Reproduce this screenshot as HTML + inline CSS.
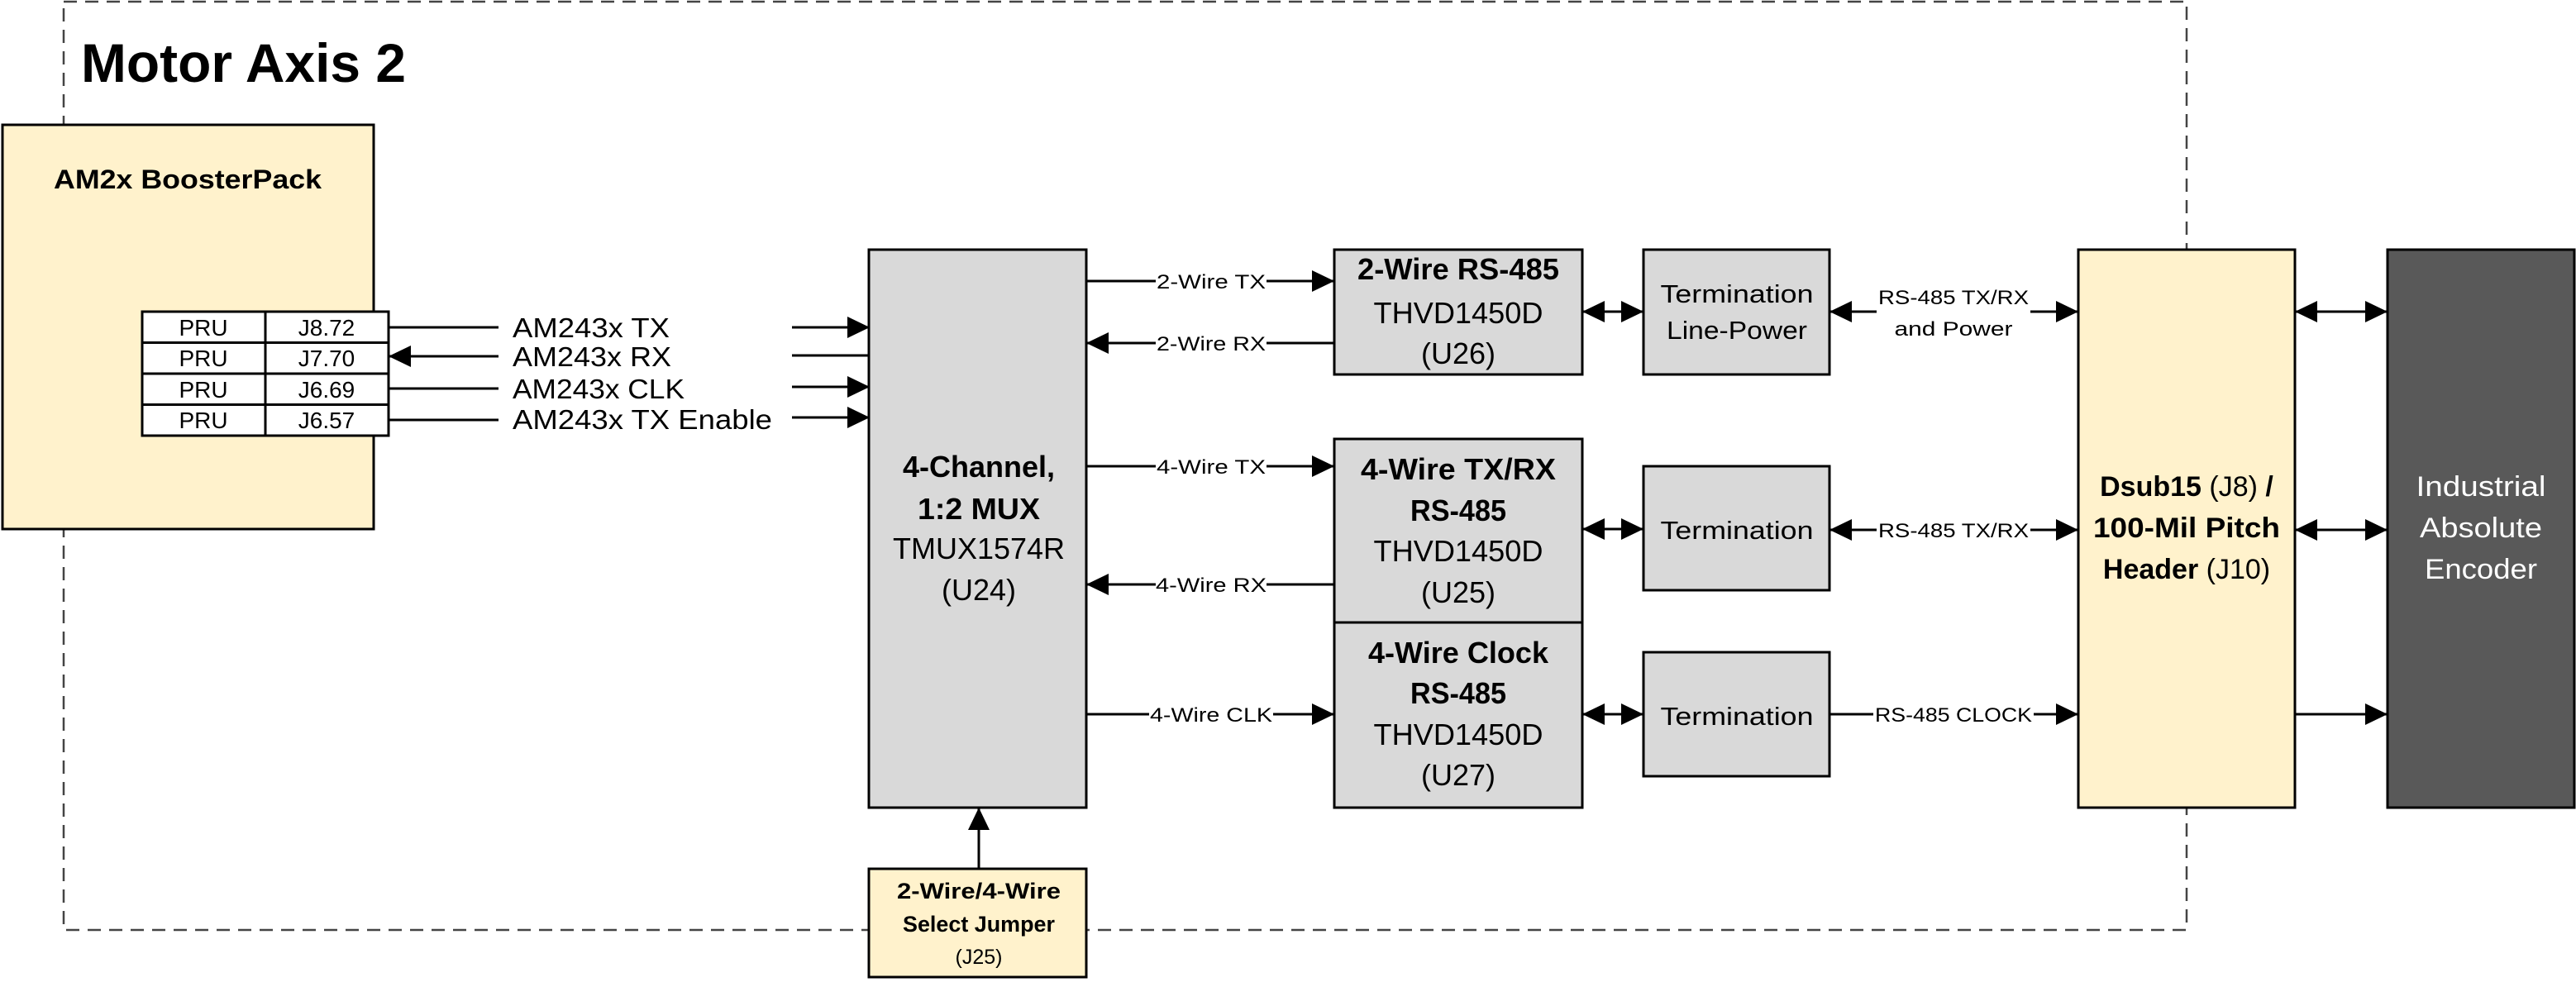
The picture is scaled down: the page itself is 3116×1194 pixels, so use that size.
<!DOCTYPE html>
<html><head><meta charset="utf-8"><style>
html,body{margin:0;padding:0;background:#fff;}
svg{display:block;}
text{font-family:"Liberation Sans",sans-serif;fill:#000;}
.b{font-weight:bold;}
</style></head><body>
<svg width="3116" height="1194" viewBox="0 0 3116 1194" xmlns="http://www.w3.org/2000/svg">
<defs>
<marker id="ah" markerUnits="userSpaceOnUse" markerWidth="28" markerHeight="28" refX="27" refY="13" orient="auto">
<path d="M0,0 L27,13 L0,26 Z" fill="#000"/></marker>
<marker id="as" markerUnits="userSpaceOnUse" markerWidth="28" markerHeight="28" refX="0" refY="13" orient="auto">
<path d="M27,0 L0,13 L27,26 Z" fill="#000"/></marker>
</defs>

<!-- dashed boundary -->
<rect x="77" y="2" width="2568" height="1123" fill="none" stroke="#444" stroke-width="2.5" stroke-dasharray="16,10"/>
<text x="98" y="99" class="b" font-size="66" textLength="393" lengthAdjust="spacingAndGlyphs">Motor Axis 2</text>

<!-- BoosterPack -->
<rect x="3" y="151" width="449" height="489" fill="#fff2cc" stroke="#000" stroke-width="3"/>
<text x="227" y="228" class="b" font-size="32" text-anchor="middle" textLength="324" lengthAdjust="spacingAndGlyphs">AM2x BoosterPack</text>
<g stroke="#000" stroke-width="3" fill="#fff">
<rect x="172" y="377" width="298" height="37.5"/>
<rect x="172" y="414.5" width="298" height="37.5"/>
<rect x="172" y="452" width="298" height="37.5"/>
<rect x="172" y="489.5" width="298" height="37.5"/>
<line x1="321" y1="377" x2="321" y2="527"/>
</g>
<g font-size="28" text-anchor="middle">
<text x="246" y="406">PRU</text><text x="395" y="406">J8.72</text>
<text x="246" y="443">PRU</text><text x="395" y="443">J7.70</text>
<text x="246" y="481">PRU</text><text x="395" y="481">J6.69</text>
<text x="246" y="518">PRU</text><text x="395" y="518">J6.57</text>
</g>
<g stroke="#000" stroke-width="3">
<line x1="470" y1="396" x2="603" y2="396"/>
<line x1="603" y1="431" x2="470" y2="431" marker-end="url(#ah)"/>
<line x1="470" y1="470" x2="603" y2="470"/>
<line x1="470" y1="508" x2="603" y2="508"/>
<line x1="958" y1="396" x2="1052" y2="396" marker-end="url(#ah)"/>
<line x1="958" y1="430" x2="1052" y2="430"/>
<line x1="958" y1="468" x2="1052" y2="468" marker-end="url(#ah)"/>
<line x1="958" y1="505" x2="1052" y2="505" marker-end="url(#ah)"/>
</g>
<g font-size="33">
<text x="620" y="408" textLength="190" lengthAdjust="spacingAndGlyphs">AM243x TX</text>
<text x="620" y="443" textLength="192" lengthAdjust="spacingAndGlyphs">AM243x RX</text>
<text x="620" y="482" textLength="208" lengthAdjust="spacingAndGlyphs">AM243x CLK</text>
<text x="620" y="519" textLength="314" lengthAdjust="spacingAndGlyphs">AM243x TX Enable</text>
</g>

<!-- MUX -->
<rect x="1051" y="302" width="263" height="675" fill="#d9d9d9" stroke="#000" stroke-width="3"/>
<g font-size="36" text-anchor="middle">
<text x="1184" y="577" class="b" textLength="184" lengthAdjust="spacingAndGlyphs">4-Channel,</text>
<text x="1184" y="628" class="b" textLength="148" lengthAdjust="spacingAndGlyphs">1:2 MUX</text>
<text x="1184" y="676" textLength="208" lengthAdjust="spacingAndGlyphs">TMUX1574R</text>
<text x="1184" y="726">(U24)</text>
</g>

<!-- Jumper -->
<line x1="1184" y1="1051" x2="1184" y2="977" stroke="#000" stroke-width="3" marker-end="url(#ah)"/>
<rect x="1051" y="1051" width="263" height="131" fill="#fff2cc" stroke="#000" stroke-width="3"/>
<g text-anchor="middle">
<text x="1184" y="1087" class="b" font-size="27" textLength="198" lengthAdjust="spacingAndGlyphs">2-Wire/4-Wire</text>
<text x="1184" y="1127" class="b" font-size="27" textLength="184" lengthAdjust="spacingAndGlyphs">Select Jumper</text>
<text x="1184" y="1166" font-size="25">(J25)</text>
</g>

<!-- RS485 boxes -->
<g fill="#d9d9d9" stroke="#000" stroke-width="3">
<rect x="1614" y="302" width="300" height="151"/>
<rect x="1614" y="531" width="300" height="222"/>
<rect x="1614" y="753" width="300" height="224"/>
<rect x="1988" y="302" width="225" height="151"/>
<rect x="1988" y="564" width="225" height="150"/>
<rect x="1988" y="789" width="225" height="150"/>
<rect x="2514" y="302" width="262" height="675" fill="#fff2cc"/>
<rect x="2888" y="302" width="226" height="675" fill="#595959"/>
</g>
<g font-size="36" text-anchor="middle">
<text x="1764" y="338" class="b" textLength="244" lengthAdjust="spacingAndGlyphs">2-Wire RS-485</text>
<text x="1764" y="391" textLength="205" lengthAdjust="spacingAndGlyphs">THVD1450D</text>
<text x="1764" y="440">(U26)</text>
<text x="1764" y="580" class="b" textLength="236" lengthAdjust="spacingAndGlyphs">4-Wire TX/RX</text>
<text x="1764" y="630" class="b" textLength="116" lengthAdjust="spacingAndGlyphs">RS-485</text>
<text x="1764" y="679" textLength="205" lengthAdjust="spacingAndGlyphs">THVD1450D</text>
<text x="1764" y="729">(U25)</text>
<text x="1764" y="802" class="b" textLength="218" lengthAdjust="spacingAndGlyphs">4-Wire Clock</text>
<text x="1764" y="851" class="b" textLength="116" lengthAdjust="spacingAndGlyphs">RS-485</text>
<text x="1764" y="901" textLength="205" lengthAdjust="spacingAndGlyphs">THVD1450D</text>
<text x="1764" y="950">(U27)</text>
</g>
<g font-size="31" text-anchor="middle">
<text x="2101" y="366" textLength="185" lengthAdjust="spacingAndGlyphs">Termination</text>
<text x="2101" y="410" textLength="170" lengthAdjust="spacingAndGlyphs">Line-Power</text>
<text x="2101" y="652" textLength="185" lengthAdjust="spacingAndGlyphs">Termination</text>
<text x="2101" y="877" textLength="185" lengthAdjust="spacingAndGlyphs">Termination</text>
</g>
<g font-size="34" text-anchor="middle">
<text x="2645" y="600"><tspan class="b">Dsub15</tspan> (J8) <tspan class="b">/</tspan></text>
<text x="2645" y="650" class="b" textLength="226" lengthAdjust="spacingAndGlyphs">100-Mil Pitch</text>
<text x="2645" y="700"><tspan class="b">Header</tspan> (J10)</text>
<text x="3001" y="600" style="fill:#fff" textLength="157" lengthAdjust="spacingAndGlyphs">Industrial</text>
<text x="3001" y="650" style="fill:#fff" textLength="148" lengthAdjust="spacingAndGlyphs">Absolute</text>
<text x="3001" y="700" style="fill:#fff" textLength="136" lengthAdjust="spacingAndGlyphs">Encoder</text>
</g>

<!-- connectors -->
<g stroke="#000" stroke-width="3" fill="none">
<line x1="1314" y1="340" x2="1614" y2="340" marker-end="url(#ah)"/>
<line x1="1614" y1="415" x2="1314" y2="415" marker-end="url(#ah)"/>
<line x1="1314" y1="564" x2="1614" y2="564" marker-end="url(#ah)"/>
<line x1="1614" y1="707" x2="1314" y2="707" marker-end="url(#ah)"/>
<line x1="1314" y1="864" x2="1614" y2="864" marker-end="url(#ah)"/>
<line x1="1914" y1="377" x2="1988" y2="377" marker-start="url(#as)" marker-end="url(#ah)"/>
<line x1="1914" y1="640" x2="1988" y2="640" marker-start="url(#as)" marker-end="url(#ah)"/>
<line x1="1914" y1="864" x2="1988" y2="864" marker-start="url(#as)" marker-end="url(#ah)"/>
<line x1="2213" y1="377" x2="2514" y2="377" marker-start="url(#as)" marker-end="url(#ah)"/>
<line x1="2213" y1="641" x2="2514" y2="641" marker-start="url(#as)" marker-end="url(#ah)"/>
<line x1="2213" y1="864" x2="2514" y2="864" marker-end="url(#ah)"/>
<line x1="2776" y1="377" x2="2888" y2="377" marker-start="url(#as)" marker-end="url(#ah)"/>
<line x1="2776" y1="641" x2="2888" y2="641" marker-start="url(#as)" marker-end="url(#ah)"/>
<line x1="2776" y1="864" x2="2888" y2="864" marker-end="url(#ah)"/>
</g>
<!-- label backgrounds -->
<g fill="#fff">
<rect x="1398" y="324" width="134" height="32"/>
<rect x="1398" y="399" width="134" height="32"/>
<rect x="1398" y="548" width="134" height="32"/>
<rect x="1398" y="691" width="134" height="32"/>
<rect x="1390" y="848" width="150" height="32"/>
<rect x="2270" y="340" width="186" height="75"/>
<rect x="2270" y="625" width="186" height="32"/>
<rect x="2266" y="848" width="194" height="32"/>
</g>
<g font-size="24" text-anchor="middle">
<text x="1465" y="349" textLength="132" lengthAdjust="spacingAndGlyphs">2-Wire TX</text>
<text x="1465" y="424" textLength="132" lengthAdjust="spacingAndGlyphs">2-Wire RX</text>
<text x="1465" y="573" textLength="132" lengthAdjust="spacingAndGlyphs">4-Wire TX</text>
<text x="1465" y="716" textLength="134" lengthAdjust="spacingAndGlyphs">4-Wire RX</text>
<text x="1465" y="873" textLength="148" lengthAdjust="spacingAndGlyphs">4-Wire CLK</text>
<text x="2363" y="368" textLength="182" lengthAdjust="spacingAndGlyphs">RS-485 TX/RX</text>
<text x="2363" y="406" textLength="143" lengthAdjust="spacingAndGlyphs">and Power</text>
<text x="2363" y="650" textLength="182" lengthAdjust="spacingAndGlyphs">RS-485 TX/RX</text>
<text x="2363" y="873" textLength="190" lengthAdjust="spacingAndGlyphs">RS-485 CLOCK</text>
</g>
</svg>
</body></html>
